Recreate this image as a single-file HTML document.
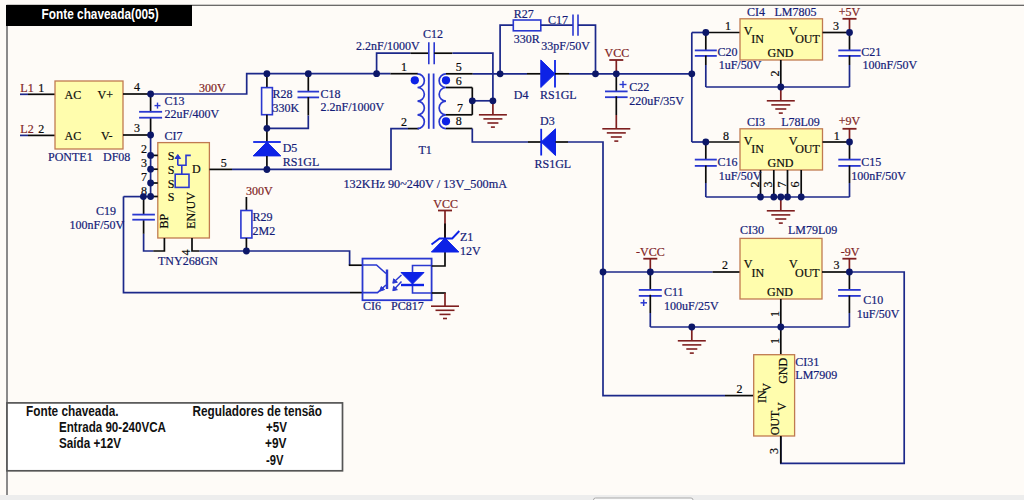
<!DOCTYPE html>
<html><head><meta charset="utf-8"><style>
html,body{margin:0;padding:0;background:#fefbf7;}
svg{display:block;}
</style></head><body>
<svg width="1024" height="500" viewBox="0 0 1024 500" stroke-linecap="butt">
<rect x="0" y="0" width="1024" height="500" fill="#fefbf7"/>
<rect x="0" y="495" width="1024" height="5" fill="#ededed"/>
<rect x="593.5" y="498" width="99.5" height="8" rx="2" fill="#fbfbfb" stroke="#a8a8a8" stroke-width="1"/>
<polyline points="6.50,5.30 1024.00,5.30" stroke="#3a3a3a" stroke-width="1.1" fill="none"/>
<polyline points="7.00,5.00 7.00,495.00" stroke="#6e6e6e" stroke-width="1.6" fill="none"/>
<rect x="6" y="5" width="186" height="21" fill="#000"/>
<text x="41.60" y="18.70" fill="#fff" font-size="13.8" font-family="Liberation Sans" font-weight="bold" text-anchor="start" textLength="117" lengthAdjust="spacingAndGlyphs">Fonte chaveada(005)</text>
<rect x="7" y="402.9" width="335.5" height="67.9" fill="#fff" stroke="#555" stroke-width="1.7"/>
<text x="26.00" y="415.60" fill="#111" font-size="13.8" font-family="Liberation Sans" font-weight="bold" text-anchor="start" textLength="92.5" lengthAdjust="spacingAndGlyphs">Fonte chaveada.</text>
<text x="59.00" y="432.00" fill="#111" font-size="13.8" font-family="Liberation Sans" font-weight="bold" text-anchor="start" textLength="107" lengthAdjust="spacingAndGlyphs">Entrada 90-240VCA</text>
<text x="59.00" y="448.00" fill="#111" font-size="13.8" font-family="Liberation Sans" font-weight="bold" text-anchor="start" textLength="62" lengthAdjust="spacingAndGlyphs">Saída +12V</text>
<text x="192.50" y="415.60" fill="#111" font-size="13.8" font-family="Liberation Sans" font-weight="bold" text-anchor="start" textLength="129.5" lengthAdjust="spacingAndGlyphs">Reguladores de tensão</text>
<text x="266.00" y="432.00" fill="#111" font-size="13.8" font-family="Liberation Sans" font-weight="bold" text-anchor="start" textLength="21" lengthAdjust="spacingAndGlyphs">+5V</text>
<text x="265.00" y="448.00" fill="#111" font-size="13.8" font-family="Liberation Sans" font-weight="bold" text-anchor="start" textLength="21.5" lengthAdjust="spacingAndGlyphs">+9V</text>
<text x="266.00" y="464.50" fill="#111" font-size="13.8" font-family="Liberation Sans" font-weight="bold" text-anchor="start" textLength="17.5" lengthAdjust="spacingAndGlyphs">-9V</text>
<polyline points="20.00,94.30 28.00,94.30" stroke="#1c288a" stroke-width="1.7" fill="none"/>
<polyline points="28.00,94.30 55.00,94.30" stroke="#0a0a0a" stroke-width="1.7" fill="none"/>
<polyline points="20.00,135.40 28.00,135.40" stroke="#1c288a" stroke-width="1.7" fill="none"/>
<polyline points="28.00,135.40 55.00,135.40" stroke="#0a0a0a" stroke-width="1.7" fill="none"/>
<text x="20.30" y="92.00" fill="#7e1f1f" font-size="12" font-family="Liberation Serif" font-weight="normal" text-anchor="start" stroke="#7e1f1f" stroke-width="0.2">L1</text>
<text x="38.20" y="92.00" fill="#0a0a0a" font-size="12" font-family="Liberation Serif" font-weight="normal" text-anchor="start" stroke="#0a0a0a" stroke-width="0.2">1</text>
<text x="20.30" y="133.00" fill="#7e1f1f" font-size="12" font-family="Liberation Serif" font-weight="normal" text-anchor="start" stroke="#7e1f1f" stroke-width="0.2">L2</text>
<text x="38.20" y="133.00" fill="#0a0a0a" font-size="12" font-family="Liberation Serif" font-weight="normal" text-anchor="start" stroke="#0a0a0a" stroke-width="0.2">2</text>
<rect x="55.00" y="81.00" width="68.00" height="68.00" stroke="#c07a50" stroke-width="1.3" fill="#fffdad"/>
<text x="64.50" y="99.00" fill="#0a0a0a" font-size="12" font-family="Liberation Serif" font-weight="normal" text-anchor="start" stroke="#0a0a0a" stroke-width="0.2">AC</text>
<text x="97.50" y="99.00" fill="#0a0a0a" font-size="12" font-family="Liberation Serif" font-weight="normal" text-anchor="start" stroke="#0a0a0a" stroke-width="0.2">V+</text>
<text x="64.50" y="140.00" fill="#0a0a0a" font-size="12" font-family="Liberation Serif" font-weight="normal" text-anchor="start" stroke="#0a0a0a" stroke-width="0.2">AC</text>
<text x="101.00" y="140.00" fill="#0a0a0a" font-size="12" font-family="Liberation Serif" font-weight="normal" text-anchor="start" stroke="#0a0a0a" stroke-width="0.2">V-</text>
<polyline points="123.00,94.00 150.60,94.00" stroke="#0a0a0a" stroke-width="1.7" fill="none"/>
<polyline points="123.00,135.00 150.60,135.00" stroke="#0a0a0a" stroke-width="1.7" fill="none"/>
<text x="134.00" y="91.00" fill="#0a0a0a" font-size="12" font-family="Liberation Serif" font-weight="normal" text-anchor="start" stroke="#0a0a0a" stroke-width="0.2">4</text>
<text x="134.00" y="132.00" fill="#0a0a0a" font-size="12" font-family="Liberation Serif" font-weight="normal" text-anchor="start" stroke="#0a0a0a" stroke-width="0.2">3</text>
<text x="48.00" y="160.70" fill="#141c78" font-size="12" font-family="Liberation Serif" font-weight="normal" text-anchor="start" stroke="#141c78" stroke-width="0.2">PONTE1</text>
<text x="103.00" y="160.70" fill="#141c78" font-size="12" font-family="Liberation Serif" font-weight="normal" text-anchor="start" stroke="#141c78" stroke-width="0.2">DF08</text>
<polyline points="150.60,94.00 150.60,112.20" stroke="#0a0a0a" stroke-width="1.7" fill="none"/>
<polyline points="150.60,117.30 150.60,135.00" stroke="#0a0a0a" stroke-width="1.7" fill="none"/>
<polyline points="139.10,111.80 162.10,111.80" stroke="#2a38d0" stroke-width="1.8" fill="none"/>
<polyline points="139.10,117.70 162.10,117.70" stroke="#2a38d0" stroke-width="1.8" fill="none"/>
<polyline points="154.50,105.60 160.50,105.60" stroke="#2a38d0" stroke-width="1.4" fill="none"/>
<polyline points="157.50,102.60 157.50,108.60" stroke="#2a38d0" stroke-width="1.4" fill="none"/>
<text x="164.40" y="104.80" fill="#141c78" font-size="12" font-family="Liberation Serif" font-weight="normal" text-anchor="start" stroke="#141c78" stroke-width="0.2">C13</text>
<text x="164.60" y="118.20" fill="#141c78" font-size="12" font-family="Liberation Serif" font-weight="normal" text-anchor="start" stroke="#141c78" stroke-width="0.2">22uF/400V</text>
<text x="164.40" y="139.50" fill="#141c78" font-size="12" font-family="Liberation Serif" font-weight="normal" text-anchor="start" stroke="#141c78" stroke-width="0.2">CI7</text>
<polyline points="150.60,94.00 246.70,94.00 246.70,73.70 390.40,73.70" stroke="#1c288a" stroke-width="1.7" fill="none"/>
<polyline points="390.40,73.70 418.00,73.70" stroke="#0a0a0a" stroke-width="1.7" fill="none"/>
<text x="199.00" y="92.00" fill="#7e1f1f" font-size="12" font-family="Liberation Serif" font-weight="normal" text-anchor="start" stroke="#7e1f1f" stroke-width="0.2">300V</text>
<rect x="157.80" y="142.60" width="51.60" height="95.40" stroke="#c07a50" stroke-width="1.3" fill="#fffdad"/>
<polyline points="150.60,135.00 150.60,196.60" stroke="#1c288a" stroke-width="1.7" fill="none"/>
<polyline points="150.60,155.40 157.80,155.40" stroke="#0a0a0a" stroke-width="1.7" fill="none"/>
<text x="141.00" y="153.40" fill="#0a0a0a" font-size="12" font-family="Liberation Serif" font-weight="normal" text-anchor="start" stroke="#0a0a0a" stroke-width="0.2">2</text>
<text x="167.80" y="160.20" fill="#0a0a0a" font-size="12" font-family="Liberation Serif" font-weight="normal" text-anchor="start" stroke="#0a0a0a" stroke-width="0.2">S</text>
<polyline points="150.60,169.20 157.80,169.20" stroke="#0a0a0a" stroke-width="1.7" fill="none"/>
<text x="141.00" y="167.20" fill="#0a0a0a" font-size="12" font-family="Liberation Serif" font-weight="normal" text-anchor="start" stroke="#0a0a0a" stroke-width="0.2">3</text>
<text x="167.80" y="174.00" fill="#0a0a0a" font-size="12" font-family="Liberation Serif" font-weight="normal" text-anchor="start" stroke="#0a0a0a" stroke-width="0.2">S</text>
<polyline points="150.60,183.00 157.80,183.00" stroke="#0a0a0a" stroke-width="1.7" fill="none"/>
<text x="141.00" y="181.00" fill="#0a0a0a" font-size="12" font-family="Liberation Serif" font-weight="normal" text-anchor="start" stroke="#0a0a0a" stroke-width="0.2">7</text>
<text x="167.80" y="187.80" fill="#0a0a0a" font-size="12" font-family="Liberation Serif" font-weight="normal" text-anchor="start" stroke="#0a0a0a" stroke-width="0.2">S</text>
<polyline points="150.60,196.50 157.80,196.50" stroke="#0a0a0a" stroke-width="1.7" fill="none"/>
<text x="141.00" y="194.50" fill="#0a0a0a" font-size="12" font-family="Liberation Serif" font-weight="normal" text-anchor="start" stroke="#0a0a0a" stroke-width="0.2">8</text>
<text x="167.80" y="201.30" fill="#0a0a0a" font-size="12" font-family="Liberation Serif" font-weight="normal" text-anchor="start" stroke="#0a0a0a" stroke-width="0.2">S</text>
<text x="192.00" y="173.40" fill="#0a0a0a" font-size="12" font-family="Liberation Serif" font-weight="normal" text-anchor="start" stroke="#0a0a0a" stroke-width="0.2">D</text>
<polyline points="177.80,165.20 186.00,165.20 186.00,155.40 190.80,155.40" stroke="#2a38d0" stroke-width="1.6" fill="none"/>
<polyline points="177.80,157.50 177.80,165.20" stroke="#2a38d0" stroke-width="1.6" fill="none"/>
<polygon points="177.80,154.50 175.00,158.50 180.60,158.50" fill="#2a38d0" stroke="#2a38d0" stroke-width="1"/>
<polyline points="181.80,165.20 181.80,174.20" stroke="#2a38d0" stroke-width="1.6" fill="none"/>
<rect x="175.20" y="174.20" width="13.80" height="13.20" stroke="#2a38d0" stroke-width="1.6" fill="none"/>
<polyline points="209.40,169.40 232.00,169.40" stroke="#0a0a0a" stroke-width="1.7" fill="none"/>
<polyline points="232.00,169.40 391.00,169.40 391.00,128.60 408.00,128.60" stroke="#1c288a" stroke-width="1.7" fill="none"/>
<polyline points="408.00,128.60 419.00,128.60" stroke="#0a0a0a" stroke-width="1.7" fill="none"/>
<text x="220.80" y="167.20" fill="#0a0a0a" font-size="12" font-family="Liberation Serif" font-weight="normal" text-anchor="start" stroke="#0a0a0a" stroke-width="0.2">5</text>
<text x="168.40" y="228.50" fill="#0a0a0a" font-size="12" font-family="Liberation Serif" font-weight="normal" text-anchor="start" transform="rotate(-90 168.40 228.50)" stroke="#0a0a0a" stroke-width="0.2">BP</text>
<text x="195.30" y="228.80" fill="#0a0a0a" font-size="12" font-family="Liberation Serif" font-weight="normal" text-anchor="start" transform="rotate(-90 195.30 228.80)" stroke="#0a0a0a" stroke-width="0.2">EN/UV</text>
<polyline points="164.40,238.00 164.40,251.00 153.20,251.00" stroke="#0a0a0a" stroke-width="1.7" fill="none"/>
<polyline points="153.20,251.00 143.60,251.00 143.60,233.80" stroke="#1c288a" stroke-width="1.7" fill="none"/>
<polyline points="143.60,233.80 143.60,219.70" stroke="#0a0a0a" stroke-width="1.7" fill="none"/>
<polyline points="143.60,196.60 143.60,214.50" stroke="#0a0a0a" stroke-width="1.7" fill="none"/>
<polyline points="132.30,214.60 154.90,214.60" stroke="#2a38d0" stroke-width="1.8" fill="none"/>
<polyline points="132.30,219.70 154.90,219.70" stroke="#2a38d0" stroke-width="1.8" fill="none"/>
<polyline points="123.50,196.60 150.60,196.60" stroke="#1c288a" stroke-width="1.7" fill="none"/>
<polyline points="123.50,196.60 123.50,292.60 350.00,292.60" stroke="#1c288a" stroke-width="1.7" fill="none"/>
<polyline points="350.00,292.60 363.00,292.60" stroke="#0a0a0a" stroke-width="1.7" fill="none"/>
<text x="96.00" y="214.80" fill="#141c78" font-size="12" font-family="Liberation Serif" font-weight="normal" text-anchor="start" stroke="#141c78" stroke-width="0.2">C19</text>
<text x="69.50" y="228.80" fill="#141c78" font-size="12" font-family="Liberation Serif" font-weight="normal" text-anchor="start" stroke="#141c78" stroke-width="0.2">100nF/50V</text>
<polyline points="192.00,238.00 192.00,251.00 199.60,251.00" stroke="#0a0a0a" stroke-width="1.7" fill="none"/>
<text x="189.50" y="255.50" fill="#0a0a0a" font-size="12" font-family="Liberation Serif" font-weight="normal" text-anchor="start" transform="rotate(-90 189.50 255.50)" stroke="#0a0a0a" stroke-width="0.2">4</text>
<polyline points="199.60,251.00 349.60,251.00 349.60,265.20" stroke="#1c288a" stroke-width="1.7" fill="none"/>
<polyline points="348.80,265.20 363.00,265.20" stroke="#0a0a0a" stroke-width="1.7" fill="none"/>
<text x="158.00" y="265.00" fill="#141c78" font-size="12" font-family="Liberation Serif" font-weight="normal" text-anchor="start" stroke="#141c78" stroke-width="0.2">TNY268GN</text>
<text x="246.00" y="194.50" fill="#7e1f1f" font-size="12" font-family="Liberation Serif" font-weight="normal" text-anchor="start" stroke="#7e1f1f" stroke-width="0.2">300V</text>
<polyline points="246.40,197.00 246.40,210.50" stroke="#0a0a0a" stroke-width="1.7" fill="none"/>
<rect x="240.90" y="210.50" width="11.00" height="27.50" stroke="#2a38d0" stroke-width="1.6" fill="none"/>
<polyline points="246.40,238.00 246.40,251.00" stroke="#0a0a0a" stroke-width="1.7" fill="none"/>
<text x="252.50" y="221.30" fill="#141c78" font-size="12" font-family="Liberation Serif" font-weight="normal" text-anchor="start" stroke="#141c78" stroke-width="0.2">R29</text>
<text x="252.50" y="234.50" fill="#141c78" font-size="12" font-family="Liberation Serif" font-weight="normal" text-anchor="start" stroke="#141c78" stroke-width="0.2">2M2</text>
<polyline points="266.90,73.70 266.90,87.60" stroke="#0a0a0a" stroke-width="1.7" fill="none"/>
<rect x="261.60" y="87.60" width="10.80" height="27.10" stroke="#2a38d0" stroke-width="1.6" fill="none"/>
<polyline points="266.90,114.70 266.90,142.00" stroke="#0a0a0a" stroke-width="1.7" fill="none"/>
<text x="272.60" y="98.40" fill="#141c78" font-size="12" font-family="Liberation Serif" font-weight="normal" text-anchor="start" stroke="#141c78" stroke-width="0.2">R28</text>
<text x="272.60" y="111.60" fill="#141c78" font-size="12" font-family="Liberation Serif" font-weight="normal" text-anchor="start" stroke="#141c78" stroke-width="0.2">330K</text>
<polyline points="308.30,73.70 308.30,92.00" stroke="#0a0a0a" stroke-width="1.7" fill="none"/>
<polyline points="297.50,91.60 319.10,91.60" stroke="#2a38d0" stroke-width="1.8" fill="none"/>
<polyline points="297.50,97.40 319.10,97.40" stroke="#2a38d0" stroke-width="1.8" fill="none"/>
<polyline points="308.30,97.00 308.30,115.50" stroke="#0a0a0a" stroke-width="1.7" fill="none"/>
<polyline points="308.30,115.50 308.30,128.30 266.90,128.30" stroke="#1c288a" stroke-width="1.7" fill="none"/>
<text x="320.60" y="97.60" fill="#141c78" font-size="12" font-family="Liberation Serif" font-weight="normal" text-anchor="start" stroke="#141c78" stroke-width="0.2">C18</text>
<text x="320.60" y="110.80" fill="#141c78" font-size="12" font-family="Liberation Serif" font-weight="normal" text-anchor="start" stroke="#141c78" stroke-width="0.2">2.2nF/1000V</text>
<polyline points="253.20,142.00 280.80,142.00" stroke="#0d22e6" stroke-width="1.8" fill="none"/>
<polygon points="266.90,142.00 253.20,155.90 280.80,155.90" fill="#0d22e6" stroke="#0d22e6" stroke-width="1"/>
<polyline points="266.90,155.90 266.90,169.50" stroke="#0a0a0a" stroke-width="1.7" fill="none"/>
<text x="282.70" y="152.30" fill="#141c78" font-size="12" font-family="Liberation Serif" font-weight="normal" text-anchor="start" stroke="#141c78" stroke-width="0.2">D5</text>
<text x="282.70" y="165.50" fill="#141c78" font-size="12" font-family="Liberation Serif" font-weight="normal" text-anchor="start" stroke="#141c78" stroke-width="0.2">RS1GL</text>
<polyline points="376.60,73.70 376.60,53.20 410.40,53.20" stroke="#1c288a" stroke-width="1.7" fill="none"/>
<polyline points="410.40,53.20 428.80,53.20" stroke="#0a0a0a" stroke-width="1.7" fill="none"/>
<polyline points="428.80,42.20 428.80,64.20" stroke="#2a38d0" stroke-width="1.6" fill="none"/>
<polyline points="434.20,42.20 434.20,64.20" stroke="#2a38d0" stroke-width="1.6" fill="none"/>
<polyline points="434.20,53.20 452.50,53.20" stroke="#0a0a0a" stroke-width="1.7" fill="none"/>
<polyline points="452.50,53.20 492.90,53.20 492.90,100.80" stroke="#1c288a" stroke-width="1.7" fill="none"/>
<text x="423.00" y="37.50" fill="#141c78" font-size="12" font-family="Liberation Serif" font-weight="normal" text-anchor="start" stroke="#141c78" stroke-width="0.2">C12</text>
<text x="356.00" y="50.00" fill="#141c78" font-size="12" font-family="Liberation Serif" font-weight="normal" text-anchor="start" stroke="#141c78" stroke-width="0.2">2.2nF/1000V</text>
<path d="M 417.50 73.80 A 6.85 6.85 0 0 1 417.50 87.50 A 6.85 6.85 0 0 1 417.50 101.20 A 6.85 6.85 0 0 1 417.50 114.90 A 6.85 6.85 0 0 1 417.50 128.60 " stroke="#2a38d0" stroke-width="1.7" fill="none"/>
<path d="M 446.00 73.80 A 6.85 6.85 0 0 0 446.00 87.50 A 6.85 6.85 0 0 0 446.00 101.20 A 6.85 6.85 0 0 0 446.00 114.90 A 6.85 6.85 0 0 0 446.00 128.60 " stroke="#2a38d0" stroke-width="1.7" fill="none"/>
<polyline points="428.80,73.50 428.80,128.80" stroke="#2a38d0" stroke-width="1.8" fill="none"/>
<polyline points="433.60,73.50 433.60,128.80" stroke="#2a38d0" stroke-width="1.8" fill="none"/>
<text x="401.00" y="71.30" fill="#0a0a0a" font-size="12" font-family="Liberation Serif" font-weight="normal" text-anchor="start" stroke="#0a0a0a" stroke-width="0.2">1</text>
<text x="401.00" y="126.00" fill="#0a0a0a" font-size="12" font-family="Liberation Serif" font-weight="normal" text-anchor="start" stroke="#0a0a0a" stroke-width="0.2">2</text>
<text x="455.80" y="71.30" fill="#0a0a0a" font-size="12" font-family="Liberation Serif" font-weight="normal" text-anchor="start" stroke="#0a0a0a" stroke-width="0.2">5</text>
<text x="455.80" y="84.80" fill="#0a0a0a" font-size="12" font-family="Liberation Serif" font-weight="normal" text-anchor="start" stroke="#0a0a0a" stroke-width="0.2">6</text>
<text x="457.00" y="111.80" fill="#0a0a0a" font-size="12" font-family="Liberation Serif" font-weight="normal" text-anchor="start" stroke="#0a0a0a" stroke-width="0.2">7</text>
<text x="455.80" y="125.30" fill="#0a0a0a" font-size="12" font-family="Liberation Serif" font-weight="normal" text-anchor="start" stroke="#0a0a0a" stroke-width="0.2">8</text>
<polyline points="446.00,73.80 472.80,73.80" stroke="#0a0a0a" stroke-width="1.7" fill="none"/>
<polyline points="472.80,73.80 527.00,73.80" stroke="#1c288a" stroke-width="1.7" fill="none"/>
<polyline points="527.00,73.80 540.80,73.80" stroke="#0a0a0a" stroke-width="1.7" fill="none"/>
<polyline points="446.00,87.50 472.30,87.50" stroke="#0a0a0a" stroke-width="1.7" fill="none"/>
<polyline points="446.00,114.80 472.30,114.80" stroke="#0a0a0a" stroke-width="1.7" fill="none"/>
<polyline points="472.30,87.50 472.30,114.80" stroke="#0a0a0a" stroke-width="1.7" fill="none"/>
<polyline points="472.30,100.80 492.90,100.80" stroke="#1c288a" stroke-width="1.7" fill="none"/>
<polyline points="492.90,100.80 492.90,114.80" stroke="#7e1f1f" stroke-width="1.7" fill="none"/>
<polyline points="492.90,114.70 492.90,114.80" stroke="#7e1f1f" stroke-width="1.7" fill="none"/>
<polyline points="478.90,114.80 506.90,114.80" stroke="#7e1f1f" stroke-width="1.6" fill="none"/>
<polyline points="483.40,118.90 502.40,118.90" stroke="#7e1f1f" stroke-width="1.6" fill="none"/>
<polyline points="487.40,123.00 498.40,123.00" stroke="#7e1f1f" stroke-width="1.6" fill="none"/>
<polyline points="490.90,127.10 494.90,127.10" stroke="#7e1f1f" stroke-width="1.6" fill="none"/>
<polyline points="446.00,128.50 472.30,128.50" stroke="#0a0a0a" stroke-width="1.7" fill="none"/>
<polyline points="472.30,128.50 472.30,142.00 528.00,142.00" stroke="#1c288a" stroke-width="1.7" fill="none"/>
<polyline points="528.00,142.00 541.20,142.00" stroke="#0a0a0a" stroke-width="1.7" fill="none"/>
<text x="418.50" y="153.80" fill="#141c78" font-size="12" font-family="Liberation Serif" font-weight="normal" text-anchor="start" stroke="#141c78" stroke-width="0.2">T1</text>
<text x="343.50" y="187.50" fill="#141c78" font-size="12" font-family="Liberation Serif" font-weight="normal" text-anchor="start" textLength="163.5" lengthAdjust="spacingAndGlyphs" stroke="#141c78" stroke-width="0.2">132KHz 90~240V / 13V_500mA</text>
<polyline points="500.10,73.80 500.10,25.20 513.30,25.20" stroke="#1c288a" stroke-width="1.7" fill="none"/>
<rect x="513.30" y="20.00" width="27.50" height="10.80" stroke="#2a38d0" stroke-width="1.6" fill="none"/>
<polyline points="540.80,25.20 573.00,25.20" stroke="#1c288a" stroke-width="1.7" fill="none"/>
<polyline points="573.00,14.60 573.00,35.80" stroke="#2a38d0" stroke-width="1.6" fill="none"/>
<polyline points="578.00,14.60 578.00,35.80" stroke="#2a38d0" stroke-width="1.6" fill="none"/>
<polyline points="578.00,25.20 595.50,25.20 595.50,73.80" stroke="#1c288a" stroke-width="1.7" fill="none"/>
<text x="513.80" y="18.00" fill="#141c78" font-size="12" font-family="Liberation Serif" font-weight="normal" text-anchor="start" stroke="#141c78" stroke-width="0.2">R27</text>
<text x="513.80" y="42.50" fill="#141c78" font-size="12" font-family="Liberation Serif" font-weight="normal" text-anchor="start" stroke="#141c78" stroke-width="0.2">330R</text>
<text x="548.00" y="23.80" fill="#141c78" font-size="12" font-family="Liberation Serif" font-weight="normal" text-anchor="start" stroke="#141c78" stroke-width="0.2">C17</text>
<text x="541.30" y="50.00" fill="#141c78" font-size="12" font-family="Liberation Serif" font-weight="normal" text-anchor="start" stroke="#141c78" stroke-width="0.2">33pF/50V</text>
<polygon points="540.80,60.00 555.00,73.80 540.80,87.50" fill="#0d22e6" stroke="#0d22e6" stroke-width="1"/>
<polyline points="555.00,60.00 555.00,87.50" stroke="#0d22e6" stroke-width="1.8" fill="none"/>
<polyline points="555.00,73.80 569.00,73.80" stroke="#0a0a0a" stroke-width="1.7" fill="none"/>
<polyline points="569.00,73.80 691.80,73.80" stroke="#1c288a" stroke-width="1.7" fill="none"/>
<text x="513.80" y="99.20" fill="#141c78" font-size="12" font-family="Liberation Serif" font-weight="normal" text-anchor="start" stroke="#141c78" stroke-width="0.2">D4</text>
<text x="540.00" y="99.20" fill="#141c78" font-size="12" font-family="Liberation Serif" font-weight="normal" text-anchor="start" stroke="#141c78" stroke-width="0.2">RS1GL</text>
<polyline points="609.30,60.00 623.30,60.00" stroke="#7e1f1f" stroke-width="1.8" fill="none"/>
<polyline points="616.30,60.00 616.30,73.80" stroke="#7e1f1f" stroke-width="1.7" fill="none"/>
<text x="604.50" y="57.00" fill="#7e1f1f" font-size="12" font-family="Liberation Serif" font-weight="normal" text-anchor="start" stroke="#7e1f1f" stroke-width="0.2">VCC</text>
<polyline points="616.30,73.80 616.30,91.30" stroke="#0a0a0a" stroke-width="1.7" fill="none"/>
<polyline points="605.00,91.40 627.60,91.40" stroke="#2a38d0" stroke-width="1.8" fill="none"/>
<polyline points="605.00,97.20 627.60,97.20" stroke="#2a38d0" stroke-width="1.8" fill="none"/>
<polyline points="619.50,84.50 626.50,84.50" stroke="#2a38d0" stroke-width="1.4" fill="none"/>
<polyline points="623.00,81.00 623.00,88.00" stroke="#2a38d0" stroke-width="1.4" fill="none"/>
<polyline points="616.30,96.30 616.30,115.00" stroke="#0a0a0a" stroke-width="1.7" fill="none"/>
<polyline points="616.30,115.00 616.30,128.80" stroke="#7e1f1f" stroke-width="1.7" fill="none"/>
<polyline points="616.30,128.70 616.30,128.80" stroke="#7e1f1f" stroke-width="1.7" fill="none"/>
<polyline points="602.30,128.80 630.30,128.80" stroke="#7e1f1f" stroke-width="1.6" fill="none"/>
<polyline points="606.80,132.90 625.80,132.90" stroke="#7e1f1f" stroke-width="1.6" fill="none"/>
<polyline points="610.80,137.00 621.80,137.00" stroke="#7e1f1f" stroke-width="1.6" fill="none"/>
<polyline points="614.30,141.10 618.30,141.10" stroke="#7e1f1f" stroke-width="1.6" fill="none"/>
<text x="629.30" y="91.30" fill="#141c78" font-size="12" font-family="Liberation Serif" font-weight="normal" text-anchor="start" stroke="#141c78" stroke-width="0.2">C22</text>
<text x="629.30" y="104.50" fill="#141c78" font-size="12" font-family="Liberation Serif" font-weight="normal" text-anchor="start" stroke="#141c78" stroke-width="0.2">220uF/35V</text>
<polyline points="541.20,128.80 541.20,155.50" stroke="#0d22e6" stroke-width="1.8" fill="none"/>
<polygon points="541.20,142.00 555.50,128.80 555.50,155.50" fill="#0d22e6" stroke="#0d22e6" stroke-width="1"/>
<polyline points="555.50,142.00 568.00,142.00" stroke="#0a0a0a" stroke-width="1.7" fill="none"/>
<polyline points="568.00,142.00 603.00,142.00 603.00,395.60 725.00,395.60" stroke="#1c288a" stroke-width="1.7" fill="none"/>
<polyline points="725.00,395.60 753.70,395.60" stroke="#0a0a0a" stroke-width="1.7" fill="none"/>
<text x="540.00" y="124.80" fill="#141c78" font-size="12" font-family="Liberation Serif" font-weight="normal" text-anchor="start" stroke="#141c78" stroke-width="0.2">D3</text>
<text x="534.50" y="167.80" fill="#141c78" font-size="12" font-family="Liberation Serif" font-weight="normal" text-anchor="start" stroke="#141c78" stroke-width="0.2">RS1GL</text>
<polyline points="691.80,32.50 691.80,142.00" stroke="#1c288a" stroke-width="1.7" fill="none"/>
<polyline points="691.80,32.50 705.80,32.50" stroke="#1c288a" stroke-width="1.7" fill="none"/>
<polyline points="705.80,32.50 740.00,32.50" stroke="#0a0a0a" stroke-width="1.7" fill="none"/>
<rect x="740.00" y="18.80" width="82.50" height="41.20" stroke="#c07a50" stroke-width="1.3" fill="#fffdad"/>
<text x="747.00" y="16.30" fill="#141c78" font-size="12" font-family="Liberation Serif" font-weight="normal" text-anchor="start" stroke="#141c78" stroke-width="0.2">CI4</text>
<text x="774.50" y="16.30" fill="#141c78" font-size="12" font-family="Liberation Serif" font-weight="normal" text-anchor="start" stroke="#141c78" stroke-width="0.2">LM7805</text>
<text x="725.00" y="30.00" fill="#0a0a0a" font-size="12" font-family="Liberation Serif" font-weight="normal" text-anchor="start" stroke="#0a0a0a" stroke-width="0.2">1</text>
<text x="833.00" y="30.00" fill="#0a0a0a" font-size="12" font-family="Liberation Serif" font-weight="normal" text-anchor="start" stroke="#0a0a0a" stroke-width="0.2">3</text>
<text x="743.70" y="35.00" fill="#0a0a0a" font-size="12" font-family="Liberation Serif" font-weight="normal" text-anchor="start" stroke="#0a0a0a" stroke-width="0.2">V</text>
<text x="751.20" y="43.00" fill="#0a0a0a" font-size="12" font-family="Liberation Serif" font-weight="normal" text-anchor="start" stroke="#0a0a0a" stroke-width="0.2">IN</text>
<text x="788.70" y="35.00" fill="#0a0a0a" font-size="12" font-family="Liberation Serif" font-weight="normal" text-anchor="start" stroke="#0a0a0a" stroke-width="0.2">V</text>
<text x="795.20" y="43.00" fill="#0a0a0a" font-size="12" font-family="Liberation Serif" font-weight="normal" text-anchor="start" stroke="#0a0a0a" stroke-width="0.2">OUT</text>
<text x="767.50" y="57.00" fill="#0a0a0a" font-size="12" font-family="Liberation Serif" font-weight="normal" text-anchor="start" stroke="#0a0a0a" stroke-width="0.2">GND</text>
<polyline points="780.80,60.00 780.80,87.00" stroke="#0a0a0a" stroke-width="1.7" fill="none"/>
<text x="779.00" y="76.50" fill="#0a0a0a" font-size="12" font-family="Liberation Serif" font-weight="normal" text-anchor="start" transform="rotate(-90 779.00 76.50)" stroke="#0a0a0a" stroke-width="0.2">2</text>
<polyline points="822.50,32.50 849.50,32.50" stroke="#0a0a0a" stroke-width="1.7" fill="none"/>
<polyline points="842.50,18.80 856.50,18.80" stroke="#7e1f1f" stroke-width="1.8" fill="none"/>
<polyline points="849.50,18.80 849.50,32.50" stroke="#7e1f1f" stroke-width="1.7" fill="none"/>
<text x="838.70" y="16.30" fill="#7e1f1f" font-size="12" font-family="Liberation Serif" font-weight="normal" text-anchor="start" stroke="#7e1f1f" stroke-width="0.2">+5V</text>
<polyline points="705.80,32.50 705.80,50.80" stroke="#0a0a0a" stroke-width="1.7" fill="none"/>
<polyline points="694.80,50.40 716.80,50.40" stroke="#2a38d0" stroke-width="1.8" fill="none"/>
<polyline points="694.80,55.90 716.80,55.90" stroke="#2a38d0" stroke-width="1.8" fill="none"/>
<polyline points="705.80,55.50 705.80,65.00" stroke="#0a0a0a" stroke-width="1.7" fill="none"/>
<polyline points="705.80,65.00 705.80,87.00" stroke="#1c288a" stroke-width="1.7" fill="none"/>
<polyline points="849.50,32.50 849.50,50.80" stroke="#0a0a0a" stroke-width="1.7" fill="none"/>
<polyline points="838.30,50.40 860.70,50.40" stroke="#2a38d0" stroke-width="1.8" fill="none"/>
<polyline points="838.30,55.90 860.70,55.90" stroke="#2a38d0" stroke-width="1.8" fill="none"/>
<polyline points="849.50,55.50 849.50,65.00" stroke="#0a0a0a" stroke-width="1.7" fill="none"/>
<polyline points="849.50,65.00 849.50,87.00" stroke="#1c288a" stroke-width="1.7" fill="none"/>
<polyline points="705.80,87.00 849.50,87.00" stroke="#1c288a" stroke-width="1.7" fill="none"/>
<polyline points="780.80,87.00 780.80,100.80" stroke="#7e1f1f" stroke-width="1.7" fill="none"/>
<polyline points="780.80,100.70 780.80,100.80" stroke="#7e1f1f" stroke-width="1.7" fill="none"/>
<polyline points="766.80,100.80 794.80,100.80" stroke="#7e1f1f" stroke-width="1.6" fill="none"/>
<polyline points="771.30,104.90 790.30,104.90" stroke="#7e1f1f" stroke-width="1.6" fill="none"/>
<polyline points="775.30,109.00 786.30,109.00" stroke="#7e1f1f" stroke-width="1.6" fill="none"/>
<polyline points="778.80,113.10 782.80,113.10" stroke="#7e1f1f" stroke-width="1.6" fill="none"/>
<text x="717.50" y="56.30" fill="#141c78" font-size="12" font-family="Liberation Serif" font-weight="normal" text-anchor="start" stroke="#141c78" stroke-width="0.2">C20</text>
<text x="718.70" y="68.80" fill="#141c78" font-size="12" font-family="Liberation Serif" font-weight="normal" text-anchor="start" stroke="#141c78" stroke-width="0.2">1uF/50V</text>
<text x="861.20" y="56.30" fill="#141c78" font-size="12" font-family="Liberation Serif" font-weight="normal" text-anchor="start" stroke="#141c78" stroke-width="0.2">C21</text>
<text x="862.50" y="68.80" fill="#141c78" font-size="12" font-family="Liberation Serif" font-weight="normal" text-anchor="start" stroke="#141c78" stroke-width="0.2">100nF/50V</text>
<polyline points="691.80,142.00 705.80,142.00" stroke="#1c288a" stroke-width="1.7" fill="none"/>
<polyline points="705.80,142.00 740.00,142.00" stroke="#0a0a0a" stroke-width="1.7" fill="none"/>
<rect x="740.00" y="128.80" width="82.50" height="41.20" stroke="#c07a50" stroke-width="1.3" fill="#fffdad"/>
<text x="747.00" y="125.50" fill="#141c78" font-size="12" font-family="Liberation Serif" font-weight="normal" text-anchor="start" stroke="#141c78" stroke-width="0.2">CI3</text>
<text x="781.20" y="125.50" fill="#141c78" font-size="12" font-family="Liberation Serif" font-weight="normal" text-anchor="start" stroke="#141c78" stroke-width="0.2">L78L09</text>
<text x="723.00" y="139.50" fill="#0a0a0a" font-size="12" font-family="Liberation Serif" font-weight="normal" text-anchor="start" stroke="#0a0a0a" stroke-width="0.2">8</text>
<text x="833.70" y="139.50" fill="#0a0a0a" font-size="12" font-family="Liberation Serif" font-weight="normal" text-anchor="start" stroke="#0a0a0a" stroke-width="0.2">1</text>
<text x="743.70" y="144.50" fill="#0a0a0a" font-size="12" font-family="Liberation Serif" font-weight="normal" text-anchor="start" stroke="#0a0a0a" stroke-width="0.2">V</text>
<text x="751.20" y="152.50" fill="#0a0a0a" font-size="12" font-family="Liberation Serif" font-weight="normal" text-anchor="start" stroke="#0a0a0a" stroke-width="0.2">IN</text>
<text x="788.70" y="144.50" fill="#0a0a0a" font-size="12" font-family="Liberation Serif" font-weight="normal" text-anchor="start" stroke="#0a0a0a" stroke-width="0.2">V</text>
<text x="795.20" y="152.50" fill="#0a0a0a" font-size="12" font-family="Liberation Serif" font-weight="normal" text-anchor="start" stroke="#0a0a0a" stroke-width="0.2">OUT</text>
<text x="767.50" y="166.50" fill="#0a0a0a" font-size="12" font-family="Liberation Serif" font-weight="normal" text-anchor="start" stroke="#0a0a0a" stroke-width="0.2">GND</text>
<polyline points="760.50,170.00 760.50,197.00" stroke="#0a0a0a" stroke-width="1.7" fill="none"/>
<text x="758.70" y="187.50" fill="#0a0a0a" font-size="12" font-family="Liberation Serif" font-weight="normal" text-anchor="start" transform="rotate(-90 758.70 187.50)" stroke="#0a0a0a" stroke-width="0.2">2</text>
<polyline points="773.80,170.00 773.80,197.00" stroke="#0a0a0a" stroke-width="1.7" fill="none"/>
<text x="772.00" y="187.50" fill="#0a0a0a" font-size="12" font-family="Liberation Serif" font-weight="normal" text-anchor="start" transform="rotate(-90 772.00 187.50)" stroke="#0a0a0a" stroke-width="0.2">3</text>
<polyline points="787.50,170.00 787.50,197.00" stroke="#0a0a0a" stroke-width="1.7" fill="none"/>
<text x="785.70" y="187.50" fill="#0a0a0a" font-size="12" font-family="Liberation Serif" font-weight="normal" text-anchor="start" transform="rotate(-90 785.70 187.50)" stroke="#0a0a0a" stroke-width="0.2">7</text>
<polyline points="801.20,170.00 801.20,197.00" stroke="#0a0a0a" stroke-width="1.7" fill="none"/>
<text x="799.40" y="187.50" fill="#0a0a0a" font-size="12" font-family="Liberation Serif" font-weight="normal" text-anchor="start" transform="rotate(-90 799.40 187.50)" stroke="#0a0a0a" stroke-width="0.2">6</text>
<polyline points="822.50,142.00 849.50,142.00" stroke="#0a0a0a" stroke-width="1.7" fill="none"/>
<polyline points="842.50,128.80 856.50,128.80" stroke="#7e1f1f" stroke-width="1.8" fill="none"/>
<polyline points="849.50,128.80 849.50,142.00" stroke="#7e1f1f" stroke-width="1.7" fill="none"/>
<text x="838.70" y="124.50" fill="#7e1f1f" font-size="12" font-family="Liberation Serif" font-weight="normal" text-anchor="start" stroke="#7e1f1f" stroke-width="0.2">+9V</text>
<polyline points="705.80,142.00 705.80,160.00" stroke="#0a0a0a" stroke-width="1.7" fill="none"/>
<polyline points="694.80,159.60 716.80,159.60" stroke="#2a38d0" stroke-width="1.8" fill="none"/>
<polyline points="694.80,165.90 716.80,165.90" stroke="#2a38d0" stroke-width="1.8" fill="none"/>
<polyline points="705.80,165.50 705.80,183.00" stroke="#0a0a0a" stroke-width="1.7" fill="none"/>
<polyline points="705.80,183.00 705.80,197.00" stroke="#1c288a" stroke-width="1.7" fill="none"/>
<polyline points="849.50,142.00 849.50,160.00" stroke="#0a0a0a" stroke-width="1.7" fill="none"/>
<polyline points="838.30,159.60 860.70,159.60" stroke="#2a38d0" stroke-width="1.8" fill="none"/>
<polyline points="838.30,165.90 860.70,165.90" stroke="#2a38d0" stroke-width="1.8" fill="none"/>
<polyline points="849.50,165.50 849.50,183.00" stroke="#0a0a0a" stroke-width="1.7" fill="none"/>
<polyline points="849.50,183.00 849.50,197.00" stroke="#1c288a" stroke-width="1.7" fill="none"/>
<polyline points="705.80,197.00 849.50,197.00" stroke="#1c288a" stroke-width="1.7" fill="none"/>
<polyline points="780.80,197.00 780.80,210.80" stroke="#7e1f1f" stroke-width="1.7" fill="none"/>
<polyline points="780.80,210.70 780.80,210.80" stroke="#7e1f1f" stroke-width="1.7" fill="none"/>
<polyline points="766.80,210.80 794.80,210.80" stroke="#7e1f1f" stroke-width="1.6" fill="none"/>
<polyline points="771.30,214.90 790.30,214.90" stroke="#7e1f1f" stroke-width="1.6" fill="none"/>
<polyline points="775.30,219.00 786.30,219.00" stroke="#7e1f1f" stroke-width="1.6" fill="none"/>
<polyline points="778.80,223.10 782.80,223.10" stroke="#7e1f1f" stroke-width="1.6" fill="none"/>
<text x="717.50" y="165.50" fill="#141c78" font-size="12" font-family="Liberation Serif" font-weight="normal" text-anchor="start" stroke="#141c78" stroke-width="0.2">C16</text>
<text x="718.70" y="179.50" fill="#141c78" font-size="12" font-family="Liberation Serif" font-weight="normal" text-anchor="start" stroke="#141c78" stroke-width="0.2">1uF/50V</text>
<text x="861.20" y="165.50" fill="#141c78" font-size="12" font-family="Liberation Serif" font-weight="normal" text-anchor="start" stroke="#141c78" stroke-width="0.2">C15</text>
<text x="851.20" y="179.50" fill="#141c78" font-size="12" font-family="Liberation Serif" font-weight="normal" text-anchor="start" stroke="#141c78" stroke-width="0.2">100nF/50V</text>
<polyline points="603.00,272.00 712.50,272.00" stroke="#1c288a" stroke-width="1.7" fill="none"/>
<polyline points="712.50,272.00 740.00,272.00" stroke="#0a0a0a" stroke-width="1.7" fill="none"/>
<polyline points="643.30,258.70 657.30,258.70" stroke="#7e1f1f" stroke-width="1.8" fill="none"/>
<polyline points="650.30,258.70 650.30,272.00" stroke="#7e1f1f" stroke-width="1.7" fill="none"/>
<text x="636.00" y="255.50" fill="#7e1f1f" font-size="12" font-family="Liberation Serif" font-weight="normal" text-anchor="start" stroke="#7e1f1f" stroke-width="0.2">-VCC</text>
<rect x="740.00" y="238.40" width="82.00" height="60.60" stroke="#c07a50" stroke-width="1.3" fill="#fffdad"/>
<text x="740.00" y="234.30" fill="#141c78" font-size="12" font-family="Liberation Serif" font-weight="normal" text-anchor="start" stroke="#141c78" stroke-width="0.2">CI30</text>
<text x="788.00" y="234.30" fill="#141c78" font-size="12" font-family="Liberation Serif" font-weight="normal" text-anchor="start" stroke="#141c78" stroke-width="0.2">LM79L09</text>
<text x="722.00" y="269.00" fill="#0a0a0a" font-size="12" font-family="Liberation Serif" font-weight="normal" text-anchor="start" stroke="#0a0a0a" stroke-width="0.2">2</text>
<text x="833.50" y="269.00" fill="#0a0a0a" font-size="12" font-family="Liberation Serif" font-weight="normal" text-anchor="start" stroke="#0a0a0a" stroke-width="0.2">3</text>
<text x="743.80" y="268.20" fill="#0a0a0a" font-size="12" font-family="Liberation Serif" font-weight="normal" text-anchor="start" stroke="#0a0a0a" stroke-width="0.2">V</text>
<text x="751.50" y="277.00" fill="#0a0a0a" font-size="12" font-family="Liberation Serif" font-weight="normal" text-anchor="start" stroke="#0a0a0a" stroke-width="0.2">IN</text>
<text x="788.90" y="268.20" fill="#0a0a0a" font-size="12" font-family="Liberation Serif" font-weight="normal" text-anchor="start" stroke="#0a0a0a" stroke-width="0.2">V</text>
<text x="795.00" y="277.00" fill="#0a0a0a" font-size="12" font-family="Liberation Serif" font-weight="normal" text-anchor="start" stroke="#0a0a0a" stroke-width="0.2">OUT</text>
<text x="767.00" y="296.40" fill="#0a0a0a" font-size="12" font-family="Liberation Serif" font-weight="normal" text-anchor="start" stroke="#0a0a0a" stroke-width="0.2">GND</text>
<polyline points="780.80,299.00 780.80,354.70" stroke="#0a0a0a" stroke-width="1.7" fill="none"/>
<text x="779.00" y="317.00" fill="#0a0a0a" font-size="12" font-family="Liberation Serif" font-weight="normal" text-anchor="start" transform="rotate(-90 779.00 317.00)" stroke="#0a0a0a" stroke-width="0.2">1</text>
<text x="779.00" y="344.00" fill="#0a0a0a" font-size="12" font-family="Liberation Serif" font-weight="normal" text-anchor="start" transform="rotate(-90 779.00 344.00)" stroke="#0a0a0a" stroke-width="0.2">1</text>
<polyline points="822.00,272.00 849.40,272.00" stroke="#0a0a0a" stroke-width="1.7" fill="none"/>
<polyline points="842.40,258.70 856.40,258.70" stroke="#7e1f1f" stroke-width="1.8" fill="none"/>
<polyline points="849.40,258.70 849.40,272.00" stroke="#7e1f1f" stroke-width="1.7" fill="none"/>
<text x="840.70" y="255.50" fill="#7e1f1f" font-size="12" font-family="Liberation Serif" font-weight="normal" text-anchor="start" stroke="#7e1f1f" stroke-width="0.2">-9V</text>
<polyline points="849.40,272.00 904.20,272.00 904.20,463.40 780.80,463.40 780.80,436.00" stroke="#1c288a" stroke-width="1.7" fill="none"/>
<polyline points="650.30,272.00 650.30,290.00" stroke="#0a0a0a" stroke-width="1.7" fill="none"/>
<polyline points="638.80,289.90 661.80,289.90" stroke="#2a38d0" stroke-width="1.8" fill="none"/>
<polyline points="638.80,295.90 661.80,295.90" stroke="#2a38d0" stroke-width="1.8" fill="none"/>
<polyline points="650.30,294.80 650.30,313.00" stroke="#0a0a0a" stroke-width="1.7" fill="none"/>
<polyline points="650.30,313.00 650.30,327.00" stroke="#1c288a" stroke-width="1.7" fill="none"/>
<polyline points="640.50,302.80 647.00,302.80" stroke="#2a38d0" stroke-width="1.5" fill="none"/>
<polyline points="643.70,299.50 643.70,306.00" stroke="#2a38d0" stroke-width="1.5" fill="none"/>
<polyline points="849.40,272.00 849.40,290.00" stroke="#0a0a0a" stroke-width="1.7" fill="none"/>
<polyline points="838.10,289.90 860.70,289.90" stroke="#2a38d0" stroke-width="1.8" fill="none"/>
<polyline points="838.10,295.90 860.70,295.90" stroke="#2a38d0" stroke-width="1.8" fill="none"/>
<polyline points="849.40,295.50 849.40,313.00" stroke="#0a0a0a" stroke-width="1.7" fill="none"/>
<polyline points="849.40,313.00 849.40,327.00" stroke="#1c288a" stroke-width="1.7" fill="none"/>
<polyline points="650.30,327.00 849.40,327.00" stroke="#1c288a" stroke-width="1.7" fill="none"/>
<polyline points="691.80,327.00 691.80,340.80" stroke="#7e1f1f" stroke-width="1.7" fill="none"/>
<polyline points="691.80,340.70 691.80,340.80" stroke="#7e1f1f" stroke-width="1.7" fill="none"/>
<polyline points="677.80,340.80 705.80,340.80" stroke="#7e1f1f" stroke-width="1.6" fill="none"/>
<polyline points="682.30,344.90 701.30,344.90" stroke="#7e1f1f" stroke-width="1.6" fill="none"/>
<polyline points="686.30,349.00 697.30,349.00" stroke="#7e1f1f" stroke-width="1.6" fill="none"/>
<polyline points="689.80,353.10 693.80,353.10" stroke="#7e1f1f" stroke-width="1.6" fill="none"/>
<text x="664.00" y="295.70" fill="#141c78" font-size="12" font-family="Liberation Serif" font-weight="normal" text-anchor="start" stroke="#141c78" stroke-width="0.2">C11</text>
<text x="664.00" y="309.60" fill="#141c78" font-size="12" font-family="Liberation Serif" font-weight="normal" text-anchor="start" stroke="#141c78" stroke-width="0.2">100uF/25V</text>
<text x="863.30" y="303.80" fill="#141c78" font-size="12" font-family="Liberation Serif" font-weight="normal" text-anchor="start" stroke="#141c78" stroke-width="0.2">C10</text>
<text x="856.80" y="317.80" fill="#141c78" font-size="12" font-family="Liberation Serif" font-weight="normal" text-anchor="start" stroke="#141c78" stroke-width="0.2">1uF/50V</text>
<rect x="753.70" y="354.70" width="40.90" height="81.30" stroke="#c07a50" stroke-width="1.3" fill="#fffdad"/>
<text x="795.30" y="365.80" fill="#141c78" font-size="12" font-family="Liberation Serif" font-weight="normal" text-anchor="start" stroke="#141c78" stroke-width="0.2">CI31</text>
<text x="795.30" y="379.30" fill="#141c78" font-size="12" font-family="Liberation Serif" font-weight="normal" text-anchor="start" stroke="#141c78" stroke-width="0.2">LM7909</text>
<text x="736.60" y="393.20" fill="#0a0a0a" font-size="12" font-family="Liberation Serif" font-weight="normal" text-anchor="start" stroke="#0a0a0a" stroke-width="0.2">2</text>
<text x="786.80" y="383.80" fill="#0a0a0a" font-size="12" font-family="Liberation Serif" font-weight="normal" text-anchor="start" transform="rotate(-90 786.80 383.80)" stroke="#0a0a0a" stroke-width="0.2">GND</text>
<text x="765.80" y="403.00" fill="#0a0a0a" font-size="12" font-family="Liberation Serif" font-weight="normal" text-anchor="start" transform="rotate(-90 765.80 403.00)" stroke="#0a0a0a" stroke-width="0.2">IN</text>
<text x="771.20" y="391.80" fill="#0a0a0a" font-size="12" font-family="Liberation Serif" font-weight="normal" text-anchor="start" transform="rotate(-90 771.20 391.80)" stroke="#0a0a0a" stroke-width="0.2">V</text>
<text x="779.50" y="435.30" fill="#0a0a0a" font-size="12" font-family="Liberation Serif" font-weight="normal" text-anchor="start" transform="rotate(-90 779.50 435.30)" stroke="#0a0a0a" stroke-width="0.2">OUT</text>
<text x="786.20" y="411.00" fill="#0a0a0a" font-size="12" font-family="Liberation Serif" font-weight="normal" text-anchor="start" transform="rotate(-90 786.20 411.00)" stroke="#0a0a0a" stroke-width="0.2">V</text>
<text x="778.00" y="454.00" fill="#0a0a0a" font-size="12" font-family="Liberation Serif" font-weight="normal" text-anchor="start" transform="rotate(-90 778.00 454.00)" stroke="#0a0a0a" stroke-width="0.2">3</text>
<polyline points="780.80,436.00 780.80,463.40" stroke="#0a0a0a" stroke-width="1.7" fill="none"/>
<rect x="362.50" y="258.60" width="69.10" height="41.60" stroke="#2a38d0" stroke-width="1.8" fill="none"/>
<polyline points="363.00,265.00 376.50,265.00 386.00,273.50" stroke="#2a38d0" stroke-width="1.6" fill="none"/>
<polyline points="387.00,269.50 387.00,289.00" stroke="#2a38d0" stroke-width="2.4" fill="none"/>
<polyline points="386.00,285.00 377.50,292.60 363.00,292.60" stroke="#2a38d0" stroke-width="1.6" fill="none"/>
<polygon points="379.80,291.20 381.20,286.60 384.60,289.60" fill="#2a38d0" stroke="#2a38d0" stroke-width="1"/>
<polyline points="401.50,275.00 395.00,281.00" stroke="#2a38d0" stroke-width="1.5" fill="none"/>
<polygon points="392.80,283.20 393.60,278.80 397.40,282.20" fill="#2a38d0" stroke="#2a38d0" stroke-width="1"/>
<polyline points="401.50,281.50 395.00,288.50" stroke="#2a38d0" stroke-width="1.5" fill="none"/>
<polygon points="392.80,290.70 393.60,286.30 397.40,289.70" fill="#2a38d0" stroke="#2a38d0" stroke-width="1"/>
<polyline points="432.00,265.50 412.50,265.50 412.50,293.00 432.00,293.00" stroke="#2a38d0" stroke-width="1.6" fill="none"/>
<polygon points="401.00,272.50 424.00,272.50 412.50,284.00" fill="#0d22e6" stroke="#0d22e6" stroke-width="1"/>
<polyline points="401.00,285.00 424.00,285.00" stroke="#0d22e6" stroke-width="2.4" fill="none"/>
<polyline points="431.60,266.00 445.00,266.00 445.00,252.00" stroke="#0a0a0a" stroke-width="1.7" fill="none"/>
<polyline points="431.60,293.00 445.80,293.00" stroke="#0a0a0a" stroke-width="1.7" fill="none"/>
<polyline points="445.00,293.00 445.00,306.20" stroke="#7e1f1f" stroke-width="1.7" fill="none"/>
<polyline points="445.00,306.10 445.00,306.20" stroke="#7e1f1f" stroke-width="1.7" fill="none"/>
<polyline points="431.00,306.20 459.00,306.20" stroke="#7e1f1f" stroke-width="1.6" fill="none"/>
<polyline points="435.50,310.30 454.50,310.30" stroke="#7e1f1f" stroke-width="1.6" fill="none"/>
<polyline points="439.50,314.40 450.50,314.40" stroke="#7e1f1f" stroke-width="1.6" fill="none"/>
<polyline points="443.00,318.50 447.00,318.50" stroke="#7e1f1f" stroke-width="1.6" fill="none"/>
<polyline points="438.00,210.50 452.00,210.50" stroke="#7e1f1f" stroke-width="1.8" fill="none"/>
<polyline points="445.00,210.50 445.00,238.00" stroke="#7e1f1f" stroke-width="1.7" fill="none"/>
<text x="433.30" y="207.70" fill="#7e1f1f" font-size="12" font-family="Liberation Serif" font-weight="normal" text-anchor="start" stroke="#7e1f1f" stroke-width="0.2">VCC</text>
<polyline points="445.00,223.50 445.00,238.00" stroke="#0a0a0a" stroke-width="1.7" fill="none"/>
<polygon points="445.00,238.00 431.40,252.00 458.80,252.00" fill="#0d22e6" stroke="#0d22e6" stroke-width="1"/>
<polyline points="431.50,244.50 439.50,238.50 452.20,238.50 459.30,231.00" stroke="#0d22e6" stroke-width="1.9" fill="none"/>
<text x="460.00" y="241.00" fill="#141c78" font-size="12" font-family="Liberation Serif" font-weight="normal" text-anchor="start" stroke="#141c78" stroke-width="0.2">Z1</text>
<text x="460.00" y="254.60" fill="#141c78" font-size="12" font-family="Liberation Serif" font-weight="normal" text-anchor="start" stroke="#141c78" stroke-width="0.2">12V</text>
<text x="363.00" y="310.00" fill="#141c78" font-size="12" font-family="Liberation Serif" font-weight="normal" text-anchor="start" stroke="#141c78" stroke-width="0.2">CI6</text>
<text x="391.00" y="310.00" fill="#141c78" font-size="12" font-family="Liberation Serif" font-weight="normal" text-anchor="start" stroke="#141c78" stroke-width="0.2">PC817</text>
<circle cx="150.60" cy="94.00" r="3.4" fill="#0c1768"/>
<circle cx="150.60" cy="135.00" r="3.4" fill="#0c1768"/>
<circle cx="150.60" cy="155.40" r="3.4" fill="#0c1768"/>
<circle cx="150.60" cy="169.20" r="3.4" fill="#0c1768"/>
<circle cx="150.60" cy="183.00" r="3.4" fill="#0c1768"/>
<circle cx="150.60" cy="196.50" r="3.4" fill="#0c1768"/>
<circle cx="143.40" cy="196.60" r="3.4" fill="#0c1768"/>
<circle cx="246.40" cy="251.00" r="3.4" fill="#0c1768"/>
<circle cx="266.90" cy="73.70" r="3.4" fill="#0c1768"/>
<circle cx="308.30" cy="73.70" r="3.4" fill="#0c1768"/>
<circle cx="376.60" cy="73.70" r="3.4" fill="#0c1768"/>
<circle cx="266.90" cy="128.30" r="3.4" fill="#0c1768"/>
<circle cx="266.90" cy="169.50" r="3.4" fill="#0c1768"/>
<circle cx="414.80" cy="80.30" r="4.1" fill="#0d22e6"/>
<circle cx="446.00" cy="80.30" r="4.1" fill="#0d22e6"/>
<circle cx="446.00" cy="121.30" r="4.1" fill="#0d22e6"/>
<circle cx="472.30" cy="100.80" r="3.4" fill="#0c1768"/>
<circle cx="492.90" cy="100.80" r="3.4" fill="#0c1768"/>
<circle cx="500.10" cy="73.80" r="3.4" fill="#0c1768"/>
<circle cx="595.50" cy="73.80" r="3.4" fill="#0c1768"/>
<circle cx="616.30" cy="73.80" r="3.4" fill="#0c1768"/>
<circle cx="691.80" cy="73.80" r="3.4" fill="#0c1768"/>
<circle cx="705.80" cy="32.50" r="3.4" fill="#0c1768"/>
<circle cx="849.50" cy="32.50" r="3.4" fill="#0c1768"/>
<circle cx="780.80" cy="87.00" r="3.4" fill="#0c1768"/>
<circle cx="705.80" cy="142.00" r="3.4" fill="#0c1768"/>
<circle cx="760.50" cy="197.00" r="3.4" fill="#0c1768"/>
<circle cx="773.80" cy="197.00" r="3.4" fill="#0c1768"/>
<circle cx="787.50" cy="197.00" r="3.4" fill="#0c1768"/>
<circle cx="801.20" cy="197.00" r="3.4" fill="#0c1768"/>
<circle cx="849.50" cy="142.00" r="3.4" fill="#0c1768"/>
<circle cx="780.80" cy="197.00" r="3.4" fill="#0c1768"/>
<circle cx="603.00" cy="272.00" r="3.4" fill="#0c1768"/>
<circle cx="650.30" cy="272.00" r="3.4" fill="#0c1768"/>
<circle cx="849.40" cy="272.00" r="3.4" fill="#0c1768"/>
<circle cx="691.80" cy="327.00" r="3.4" fill="#0c1768"/>
<circle cx="780.80" cy="327.00" r="3.4" fill="#0c1768"/>
</svg></body></html>
